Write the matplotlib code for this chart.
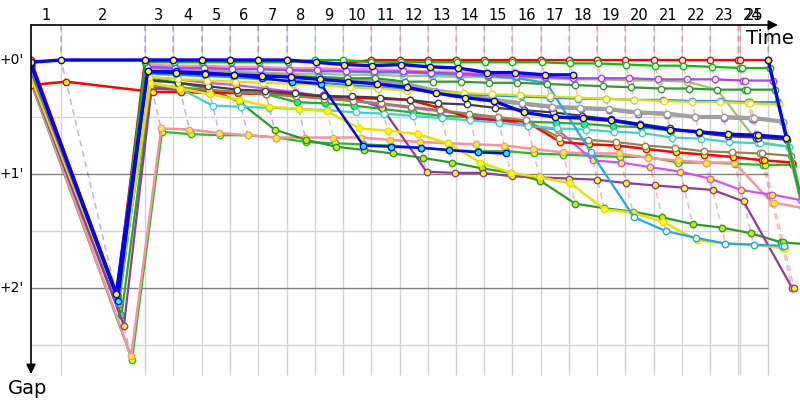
import numpy as np
import matplotlib
matplotlib.use("Agg")
import matplotlib.pyplot as plt

n = np.nan

# leader's elapsed time (minutes) at the end of each lap, index = lap number (0 = start)
lap_times = [0.00, 1.11, 4.22, 5.26, 6.33, 7.37, 8.41, 9.48, 10.52, 11.56, 12.59,
             13.67, 14.70, 15.74, 16.78, 17.81, 18.89, 19.93, 20.96, 22.00, 23.07,
             24.11, 25.15, 26.19, 26.26, 27.30]
lap_numbers = list(range(1, 26))
y_ticks = [0, 1, 2]
y_tick_labels = ["+0'", "+1'", "+2'"]

# gap to leader (minutes) per lap: laps 0..25 plus the post-finish value
blue_a = [0.02, 0.00, 0.00, 0.00, 0.00, 0.00, 0.00, 0.00, 0.02, 0.04, 0.05, 0.04, 0.06, 0.07,
          0.11, 0.11, 0.13, 0.13, n, n, n, n, n, n, n, 0.00, 0.68]
red_top = [0.00, 2.06, 0.00, 0.00, 0.00, 0.00, 0.00, 0.00, 0.02, 0.03, 0.00, 0.00, 0.00, 0.00,
           0.00, 0.00, 0.00, 0.00, 0.00, 0.00, 0.00, 0.00, 0.00, 0.00, 0.00, 0.00, n]
green_1 = [0.05, 2.07, 0.02, 0.02, 0.02, 0.02, 0.02, 0.02, 0.00, 0.00, 0.02, 0.02, 0.02, 0.02,
           0.02, 0.02, 0.02, 0.03, 0.03, 0.04, 0.05, 0.05, 0.06, 0.07, 0.07, 0.07, 1.50]
violet = [0.08, 2.08, 0.06, 0.07, 0.07, 0.08, 0.08, 0.09, 0.09, 0.10, 0.10, 0.10, 0.11, 0.12,
          0.13, 0.14, 0.15, 0.16, 0.16, 0.16, 0.17, 0.17, 0.17, 0.18, 0.18, 0.18, 1.40]
dark_green = [0.10, 2.09, 0.10, 0.11, 0.12, 0.13, 0.14, 0.15, 0.15, 0.16, 0.16, 0.19, 0.19, 0.19,
              0.20, 0.20, 0.21, 0.22, 0.23, 0.24, 0.25, 0.25, 0.26, 0.26, 0.26, 0.26, 1.35]
yellow_1 = [0.12, 2.08, 0.15, 0.17, 0.18, 0.19, 0.20, 0.21, 0.22, 0.24, 0.25, 0.27, 0.28, 0.29,
            0.30, 0.31, 0.32, 0.33, 0.34, 0.35, 0.36, 0.37, 0.37, 0.38, 0.38, 0.39, 1.45]
light_blue = [0.09, 2.07, 0.12, 0.13, 0.14, 0.15, 0.17, 0.18, 0.20, 0.22, 0.24, 0.26, 0.28, 0.30,
              0.31, 0.32, 0.33, 0.34, 0.34, 0.35, 0.35, 0.36, 0.36, 0.37, 0.37, 0.37, 1.50]
sky_blue = [0.04, 2.07, 0.06, 0.07, 0.07, 0.08, 0.08, 0.09, 0.10, 0.10, 0.11, 0.11, 0.12, 0.13,
            0.14, 0.16, 0.20, 0.81, 1.38, 1.50, 1.56, 1.61, 1.62, 1.63, 1.63, n, n]
yellow_2 = [0.15, 2.10, 0.20, 0.25, 0.30, 0.35, 0.41, 0.43, 0.45, 0.60, 0.62, 0.65, 0.73, 0.90,
            0.99, 1.03, 1.08, 1.31, 1.34, 1.42, 1.58, 1.61, 1.62, 1.65, 1.65, n, n]
gray = [0.06, 2.06, 0.07, 0.09, 0.10, 0.12, 0.13, 0.14, 0.16, 0.17, 0.19, 0.21, 0.27, 0.30,
        0.35, 0.38, 0.41, 0.42, 0.43, 0.46, 0.47, 0.50, 0.50, 0.51, 0.51, 0.54, 1.30]
slate = [0.07, 2.06, 0.08, 0.10, 0.11, 0.13, 0.14, 0.15, 0.17, 0.18, 0.20, 0.22, 0.28, 0.31,
         0.36, 0.39, 0.42, 0.43, 0.44, 0.47, 0.48, 0.50, 0.51, 0.52, 0.52, 0.54, 1.32]
black = [0.10, 2.08, 0.18, 0.20, 0.23, 0.26, 0.27, 0.29, 0.32, 0.32, 0.33, 0.35, 0.38, 0.39,
         0.42, 0.44, 0.46, 0.49, 0.52, 0.56, 0.60, 0.64, 0.67, 0.68, 0.68, 0.70, n]
blue_b = [0.03, 2.05, 0.10, 0.11, 0.12, 0.13, 0.14, 0.15, 0.17, 0.19, 0.21, 0.24, 0.29, 0.33,
          0.36, 0.46, 0.50, 0.51, 0.53, 0.57, 0.61, 0.63, 0.65, 0.66, 0.66, 0.68, n]
blue_c = [0.04, 2.11, 0.10, 0.10, 0.11, 0.13, 0.16, 0.19, 0.21, 0.75, 0.76, 0.77, 0.79, 0.81,
          0.82, n, n, n, n, n, n, n, n, n, n, n, n]
turquoise = [0.12, 2.12, 0.20, 0.25, 0.40, 0.41, 0.42, 0.43, 0.44, 0.46, 0.47, 0.49, 0.51, 0.53,
             0.55, 0.58, 0.60, 0.61, 0.63, 0.64, 0.68, 0.69, 0.72, 0.73, 0.73, 0.76, n]
pale_green = [0.07, 2.08, 0.07, 0.08, 0.09, 0.10, 0.11, 0.12, 0.12, 0.13, 0.13, 0.14, 0.14, 0.15,
              0.15, 0.16, 0.16, 0.17, 0.17, 0.18, 0.18, 0.19, 0.26, 0.72, 0.72, 0.76, n]
olive = [0.14, 2.10, 0.22, 0.24, 0.26, 0.28, 0.30, 0.32, 0.34, 0.36, 0.38, 0.41, 0.44, 0.47,
         0.50, 0.53, 0.68, 0.70, 0.72, 0.75, 0.77, 0.80, 0.81, 0.82, 0.82, 0.84, n]
red_low = [0.22, 0.19, 0.28, 0.28, 0.29, 0.29, 0.30, 0.31, 0.32, 0.33, 0.34, 0.35, 0.42, 0.51,
           0.53, 0.54, 0.72, 0.74, 0.75, 0.78, 0.81, 0.83, 0.85, 0.88, 0.88, 0.90, n]
magenta = [0.16, 2.12, 0.15, 0.17, 0.20, 0.22, 0.25, 0.28, 0.32, 0.36, 0.39, 0.42, 0.45, 0.48,
           0.52, 0.58, 0.61, 0.88, 0.90, 0.94, 0.98, 1.04, 1.14, 1.18, 1.18, 1.23, n]
purple = [0.17, 2.33, 0.25, 0.26, 0.27, 0.28, 0.29, 0.30, 0.31, 0.33, 0.42, 0.98, 0.99, 0.99,
          1.02, 1.03, 1.04, 1.05, 1.08, 1.10, 1.12, 1.14, 1.24, 2.00, 2.00, n, n]
forest = [0.13, 2.14, 0.16, 0.20, 0.25, 0.37, 0.61, 0.70, 0.76, 0.79, 0.82, 0.86, 0.90, 0.95,
          0.99, 1.06, 1.26, 1.30, 1.33, 1.38, 1.44, 1.47, 1.52, 1.60, 1.60, 1.62, n]
green_2 = [0.11, 2.24, 0.24, 0.25, 0.28, 0.29, 0.30, 0.37, 0.38, 0.40, 0.43, 0.46, 0.49, 0.50,
           0.52, 0.54, 0.55, 0.56, 0.58, 0.59, 0.62, n, n, n, n, n, n]
pink_1 = [0.18, 2.60, 0.60, 0.61, 0.64, 0.66, 0.68, 0.68, 0.68, 0.68, 0.70, 0.72, 0.73, 0.74,
          0.75, 0.78, 0.81, 0.82, 0.82, 0.86, 0.88, 0.90, 0.90, 1.25, 1.25, 1.30, n]
green_3 = [0.20, 2.63, 0.63, 0.65, 0.66, 0.66, 0.68, 0.72, 0.73, 0.74, 0.75, 0.77, 0.79, 0.80,
           0.80, 0.82, 0.83, 0.84, 0.85, 0.85, 0.90, 0.90, 0.91, 0.92, 0.92, 0.92, n]
pink_2 = [0.05, 2.09, 0.04, 0.05, 0.05, 0.06, 0.06, 0.07, 0.07, 0.08, 0.08, 0.09, 0.10, 0.11,
          0.12, 0.13, 0.14, n, n, n, n, n, n, n, n, n, n]

# (data, line colour, line width, marker face colour), drawn bottom to top
drivers = [
    (pink_2, "#ff90b0", 1.6, "white"),
    (green_3, "#20c020", 1.6, "#ffff00"),
    (pink_1, "#ff90a0", 1.8, "#ffff00"),
    (green_2, "#20b020", 1.6, "#20f0a0"),
    (forest, "#2a9a2a", 1.6, "#ccee00"),
    (purple, "#903c96", 1.6, "#ffff00"),
    (magenta, "#d050ff", 1.6, "#ffff00"),
    (red_low, "#ff0000", 1.8, "#ffff00"),
    (olive, "#8a8a50", 1.6, "white"),
    (pale_green, "#a8c070", 1.6, "white"),
    (turquoise, "#40d0d0", 1.6, "white"),
    (black, "#404040", 1.6, "white"),
    (slate, "#6a5acd", 1.4, "white"),
    (gray, "#a0a0a0", 3.0, "white"),
    (yellow_2, "#e8e000", 1.8, "#ffff00"),
    (sky_blue, "#20a8f0", 1.6, "white"),
    (light_blue, "#1e90ff", 1.6, "white"),
    (yellow_1, "#e0e000", 1.6, "white"),
    (dark_green, "#339933", 1.6, "white"),
    (violet, "#b040f0", 1.6, "white"),
    (red_top, "#ff0000", 1.6, "white"),
    (green_1, "#00c000", 1.6, "white"),
    (blue_c, "#0000ff", 1.8, "#00ffff"),
    (blue_b, "#0000ff", 2.4, "#ffff00"),
    (blue_a, "#0000ff", 2.4, "#ffff00"),
]
# order used to pick a lap's leader when gaps tie
leader_priority = [blue_a, green_1, red_top]

W, H = 800, 400
fig = plt.figure(figsize=(W / 100, H / 100), dpi=100)
left_px, top_px, bottom_px = 31, 25, 380
ax = fig.add_axes([left_px / W, 1 - bottom_px / H, 1 - left_px / W, (bottom_px - top_px) / H])
px_per_min_x = 27.0
px_per_min_y = 114.0
y_top = -(60 - top_px) / px_per_min_y
y_bot = (bottom_px - 60) / px_per_min_y
ax.set_xlim(0, (W - left_px) / px_per_min_x)
ax.set_ylim(y_bot, y_top)
ax.axis("off")

t_end = lap_times[-1]
# grid
ax.hlines([0.5, 1.5, 2.5], 0, t_end, color="#d4d4d4", lw=1, zorder=0)
ax.hlines(y_ticks, 0, t_end, color="#808080", lw=1, zorder=0.5)
ax.vlines(lap_times[1:], y_top, 2.76, color="#d4d4d4", lw=1, zorder=0)

# x of each point = leader's time at that lap + the driver's gap (start: everyone at 0)
lap_x = [0.0] + lap_times[1:] + [lap_times[-1]]


def xy(d, k=None):
    g = np.array(d, dtype=float)
    g = np.concatenate([g, np.full(27 - len(g), np.nan)])[:27]
    x = np.array(lap_x) + g
    x[0] = 0.0
    return x, g


colour_of = {id(d): col for d, col, lw, fc in drivers}

# lap lines (dashed), coloured after the leader of each lap
for k in range(1, 26):
    pts = []
    for d, col, lw, fc in drivers:
        x, g = xy(d)
        if not np.isnan(g[k]):
            pts.append((g[k], x[k]))
    pts.sort()
    best_gap = pts[0][0]
    best_col = None
    for d in leader_priority:
        if d[k] == best_gap:
            best_col = colour_of[id(d)]
            break
    if best_col is None:
        for d, col, lw, fc in drivers:
            if d[k] == best_gap:
                best_col = col
    xs = [lap_times[k]] + [p[1] for p in pts]
    ys = [y_top] + [p[0] for p in pts]
    ax.plot(xs, ys, color=best_col, alpha=0.3, lw=1.1, ls=(0, (4, 3)), zorder=1)

# driver lines
for i, (d, col, lw, fc) in enumerate(drivers):
    x, g = xy(d)
    ax.plot(x, g, color=col, lw=lw, marker="o", markersize=4.6, markerfacecolor=fc,
            markeredgecolor=col, markeredgewidth=1.0, zorder=2 + i * 0.01,
            solid_joinstyle="round")

# axes with arrows
ax.annotate("", xy=((778 - left_px) / px_per_min_x, y_top), xytext=(0, y_top),
            arrowprops=dict(arrowstyle="-|>", color="black", lw=1.2, mutation_scale=14,
                            shrinkA=0, shrinkB=0), annotation_clip=False, zorder=5)
ax.annotate("", xy=(0, (374 - 60) / px_per_min_y), xytext=(0, y_top),
            arrowprops=dict(arrowstyle="-|>", color="black", lw=1.2, mutation_scale=14,
                            shrinkA=0, shrinkB=0), annotation_clip=False, zorder=5)

# lap labels: centred on each lap; the very short lap 24 shares the final span with lap 25
label_x = [(lap_times[k - 1] + lap_times[k]) / 2 for k in lap_numbers]
label_x[23] = (lap_times[23] + lap_times[25]) / 2 - 0.05
for k, lx in zip(lap_numbers, label_x):
    ax.annotate(str(k), xy=(lx, y_top), xytext=(0, 1.5), textcoords="offset points",
                ha="center", va="bottom", fontsize=10.5, annotation_clip=False)

for v, lab in zip(y_ticks, y_tick_labels):
    ax.annotate(lab, xy=(0, v), xytext=(-5, 0), textcoords="offset points",
                ha="right", va="center", fontsize=10, annotation_clip=False)

fig.text(770 / W, 1 - 38 / H, "Time", ha="center", va="center", fontsize=14)
fig.text(28 / W, 1 - 388 / H, "Gap", ha="center", va="center", fontsize=14)

fig.savefig("out.png", dpi=100)
